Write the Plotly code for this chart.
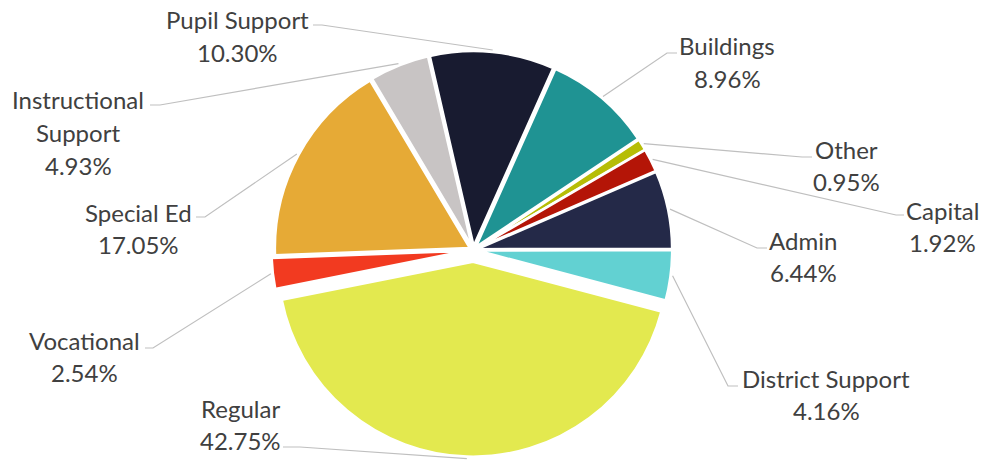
import math
import plotly.graph_objects as go

# ---- data ----
categories = ["Pupil Support", "Buildings", "Other", "Capital", "Admin",
              "District Support", "Regular", "Vocational", "Special Ed",
              "Instructional Support"]
shares = [10.30, 8.96, 0.95, 1.92, 6.44, 4.16, 42.75, 2.54, 17.05, 4.93]
pct_labels = ["10.30%", "8.96%", "0.95%", "1.92%", "6.44%", "4.16%",
              "42.75%", "2.54%", "17.05%", "4.93%"]
name_lines = [["Pupil Support"], ["Buildings"], ["Other"], ["Capital"], ["Admin"],
              ["District Support"], ["Regular"], ["Vocational"], ["Special Ed"],
              ["Instructional", "Support"]]

# ---- style ----
colors = ["#181b30", "#1f9393", "#b6bd06", "#b41507", "#242948",
          "#62d1d2", "#e3e94f", "#f23a20", "#e6aa36", "#c8c4c4"]
pulls = [0.02, 0.02, 0.02, 0.02, 0.02, 0.02, 0.06, 0.035, 0.02, 0.02]
ROT = -13
W, H = 984, 460
DOM_X = [0.265, 0.697]
DOM_Y = [0.0072, 0.9059]

fig = go.Figure(go.Pie(
    labels=categories, values=shares, sort=False, direction="clockwise",
    rotation=ROT, pull=pulls, textinfo="none", hoverinfo="label+percent",
    marker=dict(colors=colors, line=dict(color="white", width=2.5)),
    domain=dict(x=DOM_X, y=DOM_Y), showlegend=False,
))

# pie geometry (as plotly computes it)
box_w = W * (DOM_X[1] - DOM_X[0])
box_h = H * (DOM_Y[1] - DOM_Y[0])
maxpull = max(pulls)
R = min(box_w, box_h) / (2 + 2 * maxpull)
CX = W * (DOM_X[0] + DOM_X[1]) / 2
CY = H * (1 - DOM_Y[0]) - box_h / 2

total = sum(shares)
anchors = []
acc = 0.0
for v, p in zip(shares, pulls):
    mid = math.radians(ROT + (acc + v / 2) / total * 360)
    rr = R * (1 + p) + 2
    anchors.append((CX + rr * math.sin(mid), CY - rr * math.cos(mid)))
    acc += v

# label layout (pixels): text centre x, first line y, elbow (x,y), end x
label_pos = {
    "Pupil Support": (237, 20, 322, 25, 313),
    "Buildings": (727, 46, 667, 53, 677),
    "Other": (846, 149, 802, 157, 812),
    "Capital": (942, 210, 896, 215, 904),
    "Admin": (803, 240, 757, 248, 767),
    "District Support": (826, 378, 728, 386, 738),
    "Regular": (240, 408, 300, 447, 283),
    "Vocational": (84, 340, 153, 348, 145),
    "Special Ed": (138, 212, 205, 217, 196),
    "Instructional Support": (78, 100, 160, 105, 150),
}
LINE_H = 32.5

def px(x):
    return x / W

def py(y):
    return 1 - y / H

annotations = []
shapes = []
for cat, nl, pct, anc in zip(categories, name_lines, pct_labels, anchors):
    tx, ty, ex, ey, endx = label_pos[cat]
    lines = nl + [pct]
    for k, t in enumerate(lines):
        annotations.append(dict(
            x=px(tx), y=py(ty + k * LINE_H), xref="paper", yref="paper",
            text=t, showarrow=False, xanchor="center", yanchor="middle",
            font=dict(family="Lato, 'Open Sans', sans-serif", size=24, color="#404040"),
        ))
    path = f"M {px(anc[0])} {py(anc[1])} L {px(ex)} {py(ey)} L {px(endx)} {py(ey)}"
    shapes.append(dict(type="path", path=path, xref="paper", yref="paper",
                       line=dict(color="#bfbfbf", width=1.2)))

fig.update_layout(
    width=W, height=H, margin=dict(l=0, r=0, t=0, b=0),
    paper_bgcolor="white", plot_bgcolor="white",
    annotations=annotations, shapes=shapes,
)

fig.write_html(
    "out.html",
    config={"displayModeBar": False},
    post_script="document.body.style.margin='0px';document.body.style.overflow='hidden';",
)
